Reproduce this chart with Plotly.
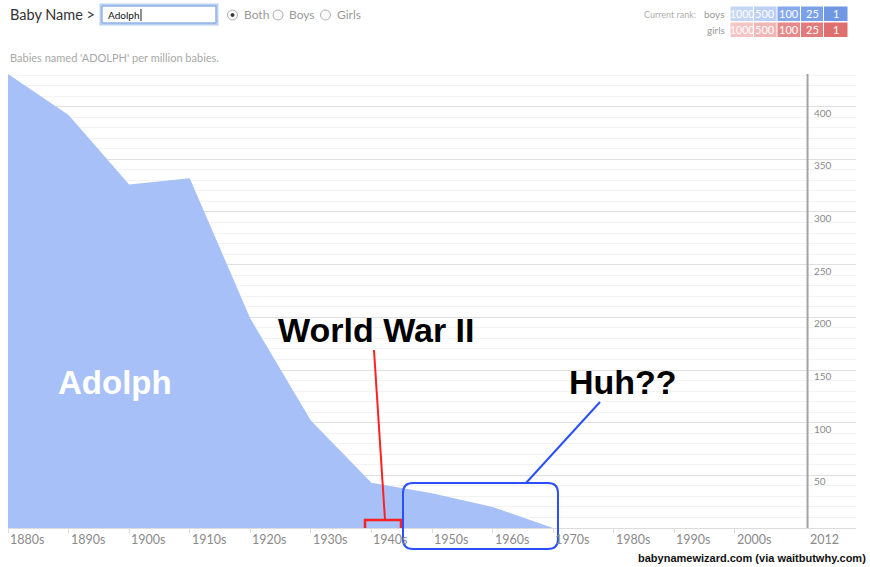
import plotly.graph_objects as go

# Babies named Adolph per million babies, by decade
years = [1880, 1890, 1900, 1910, 1920, 1930, 1940, 1950, 1960, 1970, 1980, 1990, 2000, 2010, 2012]
per_million = [431, 392, 326, 332, 199, 102, 43, 33, 20, 0, 0, 0, 0, 0, 0]

decade_labels = ["1880s", "1890s", "1900s", "1910s", "1920s", "1930s", "1940s",
                 "1950s", "1960s", "1970s", "1980s", "1990s", "2000s"]
decade_starts = [1880, 1890, 1900, 1910, 1920, 1930, 1940, 1950, 1960, 1970, 1980, 1990, 2000]
y_ticks = [50, 100, 150, 200, 250, 300, 350, 400]

rank_labels = ["1000", "500", "100", "25", "1"]
boys_colors = ["#c6d7f6", "#bccff4", "#87aaec", "#7ba1e8", "#6f97e4"]
girls_colors = ["#f4c5c5", "#f0b7b7", "#e68989", "#e27b7b", "#df6e6e"]

W, H = 870, 567
L, R, T, B = 8, 14, 74, 39
PW, PH = W - L - R, H - T - B


def px(x):
    return (x - L) / PW


def py(y):
    return (H - B - y) / PH


FILL = "#a7c1f8"
GREY = "#8a8a8a"

fig = go.Figure()
fig.add_trace(go.Scatter(
    x=years, y=per_million, mode="lines", fill="tozeroy",
    line=dict(width=0, color=FILL), fillcolor=FILL, hoverinfo="skip",
    showlegend=False,
))

annotations = []
shapes = []

# decade labels, left-aligned at each tick
for yr, lab in zip(decade_starts, decade_labels):
    annotations.append(dict(x=yr, y=py(539), xref="x", yref="paper", text=lab,
                            showarrow=False, xanchor="left", yanchor="middle",
                            font=dict(family="Lato", size=12.5, color=GREY)))
annotations.append(dict(x=2012, y=py(539), xref="x", yref="paper", text="2012",
                        showarrow=False, xanchor="left", yanchor="middle",
                        font=dict(family="Lato", size=12.5, color=GREY)))

# value labels right of the 2012 marker, just under each gridline
for v in y_ticks:
    annotations.append(dict(x=2012, y=v, xref="x", yref="y", text=str(v),
                            showarrow=False, xanchor="left", yanchor="top",
                            xshift=4, yshift=2,
                            font=dict(family="Lato", size=10, color=GREY)))

# 2012 marker
shapes.append(dict(type="line", xref="x", yref="paper", x0=2012, x1=2012, y0=0, y1=1,
                   line=dict(color="#a3a3a3", width=2)))

# callouts
big = dict(family="Liberation Sans, Arial", size=34, color="#000000")
annotations.append(dict(x=px(376), y=py(330), xref="paper", yref="paper",
                        text="<b>World War II</b>", showarrow=False,
                        xanchor="center", yanchor="middle", font=big))
annotations.append(dict(x=px(623), y=py(382), xref="paper", yref="paper",
                        text="<b>Huh??</b>", showarrow=False,
                        xanchor="center", yanchor="middle", font=big))
annotations.append(dict(x=px(115), y=py(382), xref="paper", yref="paper",
                        text="<b>Adolph</b>", showarrow=False,
                        xanchor="center", yanchor="middle",
                        font=dict(family="Liberation Sans, Arial", size=33, color="#ffffff")))

# red bracket over the 1940s
RED = "#ff2020"
shapes.append(dict(type="line", xref="paper", yref="paper",
                   x0=px(374), y0=py(350), x1=px(385), y1=py(520),
                   line=dict(color=RED, width=2)))
shapes.append(dict(type="path", xref="paper", yref="paper",
                   path=f"M {px(365)} {py(528)} L {px(365)} {py(520)} L {px(401)} {py(520)} L {px(401)} {py(528)}",
                   line=dict(color=RED, width=2.5)))

# blue rounded box over the 1950s-60s
BLUE = "#2a4fff"
x0, x1, y0, y1, r = 403, 558, 483, 549, 10
path = (f"M {px(x0 + r)} {py(y0)} L {px(x1 - r)} {py(y0)} "
        f"Q {px(x1)} {py(y0)} {px(x1)} {py(y0 + r)} L {px(x1)} {py(y1 - r)} "
        f"Q {px(x1)} {py(y1)} {px(x1 - r)} {py(y1)} L {px(x0 + r)} {py(y1)} "
        f"Q {px(x0)} {py(y1)} {px(x0)} {py(y1 - r)} L {px(x0)} {py(y0 + r)} "
        f"Q {px(x0)} {py(y0)} {px(x0 + r)} {py(y0)} Z")
shapes.append(dict(type="path", xref="paper", yref="paper", path=path,
                   line=dict(color=BLUE, width=2)))
shapes.append(dict(type="line", xref="paper", yref="paper",
                   x0=px(600), y0=py(402), x1=px(526), y1=py(483),
                   line=dict(color=BLUE, width=2)))

# credit
annotations.append(dict(x=px(868), y=py(558), xref="paper", yref="paper",
                        text="<b>babynamewizard.com (via waitbutwhy.com)</b>",
                        showarrow=False, xanchor="right", yanchor="middle",
                        font=dict(family="Liberation Sans, Arial", size=11, color="#111111")))

# header: name search
annotations.append(dict(x=px(8), y=py(14), xref="paper", yref="paper",
                        text="Baby Name >", showarrow=False, xanchor="left", yanchor="middle",
                        font=dict(family="Lato", size=14.5, color="#333333")))
shapes.append(dict(type="rect", xref="paper", yref="paper",
                   x0=px(101), x1=px(217), y0=py(5), y1=py(24),
                   line=dict(color="#b9d0f2", width=3), fillcolor="#ffffff"))
shapes.append(dict(type="rect", xref="paper", yref="paper",
                   x0=px(102), x1=px(216), y0=py(6), y1=py(23),
                   line=dict(color="#7ea5de", width=1)))
annotations.append(dict(x=px(106), y=py(15), xref="paper", yref="paper",
                        text="Adolph", showarrow=False, xanchor="left", yanchor="middle",
                        font=dict(family="Lato", size=10, color="#111111")))
shapes.append(dict(type="line", xref="paper", yref="paper",
                   x0=px(141), x1=px(141), y0=py(9), y1=py(21),
                   line=dict(color="#222222", width=1)))

for cx, lab in [(232.5, "Both"), (278, "Boys"), (325.5, "Girls")]:
    shapes.append(dict(type="circle", xref="paper", yref="paper",
                       x0=px(cx - 5), x1=px(cx + 5), y0=py(10), y1=py(20),
                       line=dict(color="#b0b0b0", width=1), fillcolor="#fbfbfb"))
    annotations.append(dict(x=px(cx + 9), y=py(15), xref="paper", yref="paper",
                            text=lab, showarrow=False, xanchor="left", yanchor="middle",
                            font=dict(family="Lato", size=12, color="#9a9a9a")))
shapes.append(dict(type="circle", xref="paper", yref="paper",
                   x0=px(231), x1=px(234), y0=py(13.5), y1=py(16.5),
                   line=dict(color="#333333", width=1), fillcolor="#333333"))

annotations.append(dict(x=px(8), y=py(57), xref="paper", yref="paper",
                        text="Babies named 'ADOLPH' per million babies.", showarrow=False,
                        xanchor="left", yanchor="middle",
                        font=dict(family="Lato", size=11, color="#a8a8a8")))

# header: current rank legend
annotations.append(dict(x=px(698), y=py(14), xref="paper", yref="paper",
                        text="Current rank:", showarrow=False, xanchor="right", yanchor="middle",
                        font=dict(family="Lato", size=9, color="#b0b0b0")))
annotations.append(dict(x=px(727), y=py(14), xref="paper", yref="paper",
                        text="boys", showarrow=False, xanchor="right", yanchor="middle",
                        font=dict(family="Lato", size=10, color="#9a9a9a")))
annotations.append(dict(x=px(727), y=py(30), xref="paper", yref="paper",
                        text="girls", showarrow=False, xanchor="right", yanchor="middle",
                        font=dict(family="Lato", size=10, color="#9a9a9a")))
cells = [(730, 753.5), (753.5, 777), (777, 800.5), (800.5, 823.5), (823.5, 848)]
for (cx0, cx1), lab, bc, gc in zip(cells, rank_labels, boys_colors, girls_colors):
    for (ry0, ry1), col in [((6.5, 21), bc), ((22.5, 37), gc)]:
        shapes.append(dict(type="rect", xref="paper", yref="paper",
                           x0=px(cx0 + 0.5), x1=px(cx1 - 0.5), y0=py(ry0), y1=py(ry1),
                           line=dict(width=0), fillcolor=col))
        annotations.append(dict(x=px((cx0 + cx1) / 2), y=py((ry0 + ry1) / 2),
                                xref="paper", yref="paper", text=lab, showarrow=False,
                                xanchor="center", yanchor="middle",
                                font=dict(family="Lato", size=10.5 if len(lab) > 3 else 11,
                                          color="#ffffff")))

fig.update_layout(
    width=W, height=H,
    margin=dict(l=L, r=R, t=T, b=B),
    paper_bgcolor="#ffffff", plot_bgcolor="#ffffff",
    showlegend=False,
    xaxis=dict(range=[1880, 2020], showgrid=False, zeroline=False,
               showticklabels=False, showline=True, linecolor="#dcdcdc", linewidth=1,
               ticks="outside", ticklen=4, tickcolor="#dcdcdc",
               tickvals=decade_starts, fixedrange=True),
    yaxis=dict(range=[0, 431], dtick=50, showgrid=True, gridcolor="#e0e0e0", gridwidth=1,
               zeroline=False, showticklabels=False, ticks="",
               minor=dict(dtick=10, showgrid=True, gridcolor="#f3f3f3", gridwidth=1),
               fixedrange=True),
    annotations=annotations,
    shapes=shapes,
)

fig.write_html("out.html")
